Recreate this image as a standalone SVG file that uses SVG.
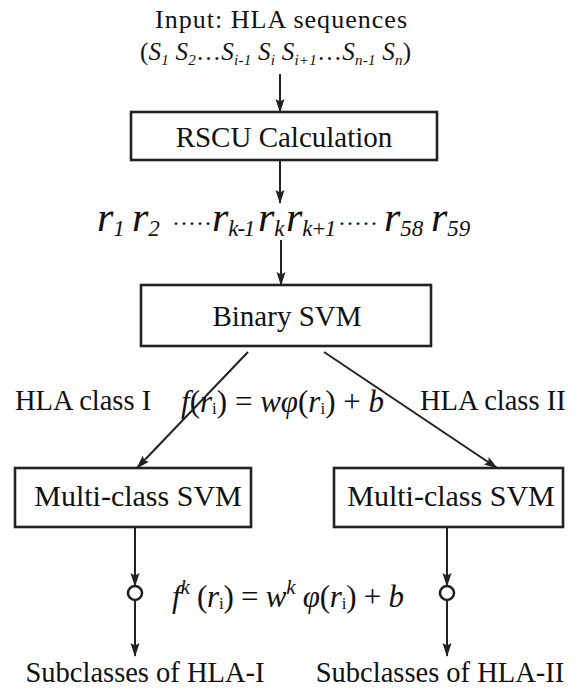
<svg xmlns="http://www.w3.org/2000/svg" width="578" height="689" viewBox="0 0 578 689">
<style>
.t{font-family:"Liberation Serif","Times New Roman",serif;fill:#111}
.m{font-family:"Liberation Serif","Times New Roman",serif;font-style:italic;fill:#111}
.box{fill:#fff;stroke:#222;stroke-width:2.6}
.c{stroke:#222;stroke-width:2;fill:none}
.sub{font-size:23px}
.n{font-style:normal}
</style>
<defs>
<marker id="ah" markerUnits="userSpaceOnUse" markerWidth="14" markerHeight="10" refX="13" refY="5" orient="auto">
<path d="M0,0.5 L14,5 L0,9.5 L2.5,5 z" fill="#222"/>
</marker>
</defs>
<rect width="578" height="689" fill="#fff"/>
<g id="input">
<text class="t" x="281" y="28" font-size="26" text-anchor="middle" textLength="252">Input: HLA sequences</text>
<text class="m" x="140" y="60" font-size="25" textLength="271"><tspan class="n">(</tspan>S<tspan font-size="15" dy="5">1</tspan><tspan dy="-5"> S</tspan><tspan font-size="15" dy="5">2</tspan><tspan dy="-5" class="n">…</tspan>S<tspan font-size="15" dy="5">i-1</tspan><tspan dy="-5"> S</tspan><tspan font-size="15" dy="5">i</tspan><tspan dy="-5"> S</tspan><tspan font-size="15" dy="5">i+1</tspan><tspan dy="-5" class="n">…</tspan>S<tspan font-size="15" dy="5">n-1</tspan><tspan dy="-5"> S</tspan><tspan font-size="15" dy="5">n</tspan><tspan dy="-5" class="n">)</tspan></text>
</g>
<g id="rscu">
<rect class="box" x="131" y="112" width="306" height="48"/>
<text class="t" x="284" y="147" font-size="29" text-anchor="middle">RSCU Calculation</text>
</g>
<g id="rvec" class="m" font-size="42">
<text x="97" y="231">r<tspan class="sub" dy="5">1</tspan></text>
<text x="132" y="231">r<tspan class="sub" dy="5">2</tspan></text>
<text x="172" y="231" class="n" font-size="24">·····</text>
<text x="212" y="231">r<tspan class="sub" dy="5" textLength="27">k-1</tspan></text>
<text x="258" y="231">r<tspan class="sub" dy="5">k</tspan></text>
<text x="286" y="231">r<tspan class="sub" dy="5" textLength="34">k+1</tspan></text>
<text x="338" y="231" class="n" font-size="24">·····</text>
<text x="384" y="231">r<tspan class="sub" dy="5">58</tspan></text>
<text x="431" y="231">r<tspan class="sub" dy="5">59</tspan></text>
</g>
<g id="binary">
<rect class="box" x="141" y="285" width="290" height="61"/>
<text class="t" x="287" y="326" font-size="29" text-anchor="middle">Binary SVM</text>
</g>
<g id="multi1">
<rect class="box" x="15" y="468" width="236" height="59"/>
<text class="t" x="138" y="506" font-size="30" text-anchor="middle">Multi-class SVM</text>
</g>
<g id="multi2">
<rect class="box" x="334" y="468" width="229" height="59"/>
<text class="t" x="451" y="506" font-size="30" text-anchor="middle">Multi-class SVM</text>
</g>
<g id="labels">
<text class="t" x="15" y="410" font-size="28.5">HLA class I</text>
<text class="t" x="420" y="410" font-size="28.5">HLA class II</text>
<text class="m" x="181" y="412" font-size="31" textLength="203"><tspan>f</tspan><tspan class="n">(</tspan>r<tspan font-size="17" dy="2" class="n">i</tspan><tspan dy="-2" class="n">) = </tspan>wφ<tspan class="n">(</tspan>r<tspan font-size="17" dy="2" class="n">i</tspan><tspan dy="-2" class="n">) + </tspan>b</text>
<text class="m" x="172" y="607" font-size="31" textLength="232">f<tspan font-size="21" dy="-13">k</tspan><tspan dy="13" class="n"> (</tspan>r<tspan font-size="17" dy="2" class="n">i</tspan><tspan dy="-2" class="n">) = </tspan>w<tspan font-size="21" dy="-13">k</tspan><tspan dy="13"> φ</tspan><tspan class="n">(</tspan>r<tspan font-size="17" dy="2" class="n">i</tspan><tspan dy="-2" class="n">) + </tspan>b</text>
</g>
<g id="out1">
<circle cx="135" cy="593" r="7" fill="#fff" stroke="#222" stroke-width="2.6"/>
<text class="t" x="145" y="682" font-size="28.5" text-anchor="middle">Subclasses of HLA-I</text>
</g>
<g id="out2">
<circle cx="447" cy="593" r="7" fill="#fff" stroke="#222" stroke-width="2.6"/>
<text class="t" x="440" y="682" font-size="28.5" text-anchor="middle">Subclasses of HLA-II</text>
</g>
<g id="connectors">
<line class="c" x1="280" y1="74" x2="280" y2="112" marker-end="url(#ah)"/>
<line class="c" x1="280" y1="160" x2="280" y2="203" marker-end="url(#ah)"/>
<line class="c" x1="281" y1="240" x2="281" y2="285" marker-end="url(#ah)"/>
<line class="c" x1="248" y1="352" x2="137" y2="468" marker-end="url(#ah)"/>
<line class="c" x1="324" y1="352" x2="497" y2="468" stroke-width="1.5" marker-end="url(#ah)"/>
<line class="c" x1="135" y1="527" x2="135" y2="586" marker-end="url(#ah)"/>
<line class="c" x1="447" y1="527" x2="447" y2="586" marker-end="url(#ah)"/>
<line class="c" x1="135" y1="600" x2="135" y2="656" marker-end="url(#ah)"/>
<line class="c" x1="447" y1="600" x2="447" y2="656" marker-end="url(#ah)"/>
</g>
</svg>
